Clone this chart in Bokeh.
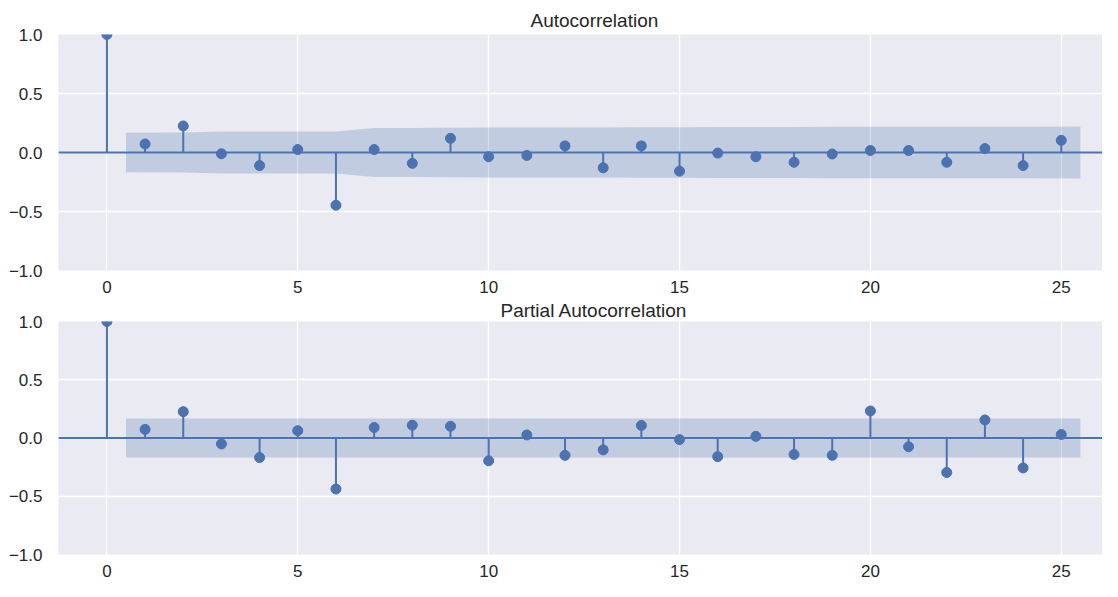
from bokeh.plotting import figure
from bokeh.layouts import column
from bokeh.models import Range1d, FixedTicker, Span, CustomJSTickFormatter, ColumnDataSource
from bokeh.embed import file_html
from bokeh.resources import INLINE

# ---- data ----
lags = list(range(0, 26))
acf_vals = [1.0, 0.072, 0.225, -0.011, -0.111, 0.025, -0.447, 0.025, -0.092, 0.120,
            -0.036, -0.025, 0.056, -0.130, 0.056, -0.158, -0.005, -0.036, -0.083,
            -0.013, 0.017, 0.017, -0.083, 0.033, -0.111, 0.103]
acf_conf = [0.168, 0.169, 0.177, 0.177, 0.179, 0.179, 0.208, 0.208, 0.209, 0.211,
            0.211, 0.211, 0.212, 0.214, 0.214, 0.217, 0.217, 0.217, 0.218, 0.218,
            0.218, 0.218, 0.219, 0.219, 0.221]  # lags 1..25
pacf_vals = [1.0, 0.074, 0.226, -0.051, -0.168, 0.063, -0.438, 0.090, 0.110, 0.101,
             -0.196, 0.026, -0.149, -0.102, 0.108, -0.014, -0.160, 0.014, -0.141,
             -0.149, 0.232, -0.075, -0.296, 0.155, -0.257, 0.030]
pacf_conf = [0.167] * 25  # lags 1..25
titles = ["Autocorrelation", "Partial Autocorrelation"]
x_ticks = [0, 5, 10, 15, 20, 25]
y_ticks = [-1.0, -0.5, 0.0, 0.5, 1.0]

BLUE = "#4c72b0"
BG = "#eaeaf2"
TXT = "#262626"
FONT = "Liberation Sans"

def make_panel(vals, conf, title, title_offset, title_standoff, height, top, bottom):
    p = figure(width=1102, height=height, output_backend="svg", toolbar_location=None,
               x_range=Range1d(-1.268, 26.08), y_range=Range1d(-1.0, 1.0),
               min_border_left=58, min_border_right=0, min_border_top=top,
               min_border_bottom=bottom)
    p.title.text = title
    p.title.align = "left"
    p.title.offset = title_offset
    p.title.text_font = FONT
    p.title.text_font_size = "19px"
    p.title.text_font_style = "normal"
    p.title.text_color = TXT
    p.title.standoff = title_standoff
    p.background_fill_color = BG
    p.border_fill_color = "white"
    p.outline_line_color = None
    for ax in (p.xaxis, p.yaxis):
        ax.axis_line_color = None
        ax.major_tick_line_color = None
        ax.minor_tick_line_color = None
        ax.major_tick_out = 0
        ax.major_label_text_font = FONT
        ax.major_label_text_font_size = "17px"
        ax.major_label_text_color = TXT
    p.xaxis.ticker = FixedTicker(ticks=x_ticks)
    p.yaxis.ticker = FixedTicker(ticks=y_ticks)
    p.yaxis.formatter = CustomJSTickFormatter(code="""
        const s = Math.abs(tick).toFixed(1);
        return tick < -1e-9 ? '\u2212' + s : s;
    """)
    p.xaxis.major_label_standoff = 10
    p.yaxis.major_label_standoff = 16
    p.grid.grid_line_color = "white"
    p.grid.grid_line_width = 1.3
    p.xgrid.ticker = FixedTicker(ticks=x_ticks)
    p.ygrid.ticker = FixedTicker(ticks=y_ticks)

    # confidence band (x shifted half a lag at the ends, as statsmodels does)
    bx = [float(l) for l in lags[1:]]
    bx[0] -= 0.5
    bx[-1] += 0.5
    band = ColumnDataSource(dict(x=bx, lo=[-c for c in conf], hi=list(conf)))
    p.varea(x="x", y1="lo", y2="hi", source=band, fill_color=BLUE, fill_alpha=0.25)

    p.add_layout(Span(location=0, dimension="width", line_color=BLUE, line_width=2))
    src = ColumnDataSource(dict(x=lags, y=vals, z=[0] * len(lags)))
    p.segment(x0="x", y0="z", x1="x", y1="y", source=src, line_color=BLUE, line_width=2)
    p.scatter(x="x", y="y", source=src, size=10, fill_color=BLUE, line_color=BLUE)
    return p

p1 = make_panel(acf_vals, acf_conf, titles[0], 472, 8, 296, 34, 26)
p2 = make_panel(pacf_vals, pacf_conf, titles[1], 442, 2, 285, 22, 27)
layout = column(p1, p2, spacing=0)

open("out.html", "w").write(file_html(layout, INLINE))
